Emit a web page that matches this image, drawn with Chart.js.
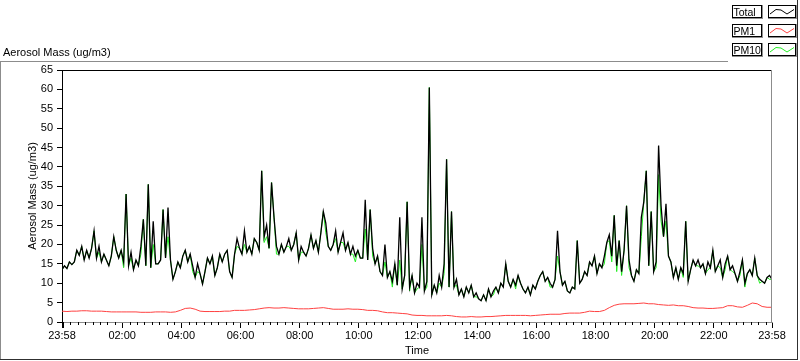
<!DOCTYPE html>
<html><head><meta charset="utf-8">
<script src="https://cdn.jsdelivr.net/npm/chart.js@4"></script>
<style>html,body{margin:0;padding:0;background:#fff;overflow:hidden}#wrap{width:800px;height:361px;position:relative}</style>
</head><body><div id="wrap"><canvas id="c" width="800" height="361"></canvas></div>
<script>
// ---- data (minutes after 23:58 start) ----
const totalStepMin = 5;
const pm1StepMin = 10;
const seriesNames = ['Total', 'PM1', 'PM10'];
const totalValues = [
13.5,14.5,13.8,15.5,14.8,15.5,18.5,17.2,19.5,16,18.5,16.5,
19,23.5,16.5,19.5,15.5,17.5,16,14.5,17,22,18.5,16.5,
18.5,15.5,33,14.5,18,13.5,16,14.5,19.5,26.5,14.5,35.5,
14,26,15,15,16,29,16.5,29.5,16,11,13,15.5,
14,17,18.5,15.5,17.5,14.5,11.5,15,12.5,9.8,13,16.5,
15,17,12,14,17.5,15.5,17.5,18.5,13,11.5,17.5,21.5,
19,17.5,23.5,18,19.5,17.5,21.5,20.5,18.5,39,22,25,
19,36,27,19.5,17.5,20,18,19.5,21.5,18.5,20,23,
16,19.5,18,17,19,22.5,19,21,18,23,28.5,25.5,
19.5,18.5,20,23.5,18,20.5,23,18.5,20.5,17.5,19.5,17,
18.5,16.5,16.5,31.5,16,29,19,15,17,13,12,20,
11.5,13,10.5,15,9.5,27,8.5,12,31,9,12,7.5,
10,9,27,8,10.5,60.5,7,9.5,7.5,12,9,15,
42,9,28.5,9,11,7,8.5,6.5,9,7.5,9.5,6.5,
7.5,6,5.5,7,5.5,8.5,6.5,8,9,7.5,10,9,
15,10.5,9,11,9.5,12,10,8.5,7.5,9,7,9.5,
8.5,10.5,12,13,10.5,11.5,10,9,11,23.5,13,9.5,
10.5,8,7.5,9,8.5,21,10,11,13,12,15.5,14.5,
17,12.5,15,14,17,20.5,22.5,17,27.5,14.5,21,13,
18.5,30,16,12,10.5,13.5,12.5,27,31,39,14.5,28.5,
13,15.5,45.5,30,22,30.5,17,15.5,11.5,14,11,14,
12.5,26,10.5,13.5,16,14.5,16,14,15,12.5,15.5,14,
18.5,13,14.5,16,11.5,15,17,13.5,14.5,12.5,10.5,13,
16,10,12.5,13.5,12,16.5,12,11,10.5,10,11.5,12,
11
];
const pm10Values = [
13.5,14.5,13.8,15.5,14.8,15.5,18.5,17.2,19.5,16,18.5,16.5,
19,23.5,16.5,18,15.5,17.5,16,14.5,17,22,18.5,16.5,
18.5,14,33,14.5,16.5,13.5,16,14.5,17.5,26.5,14.5,35.5,
14,20,15,15,16,29,16.5,22,16,11,13,15.5,
14,17,18.5,15.5,17.5,13,11.5,13,12.5,9.8,13,16.5,
15,17,12,14,17.5,15.5,17.5,18.5,13,11.5,17.5,19.5,
19,17.5,20,18,19.5,17.5,21.5,20.5,18.5,39,20.5,22,
19,36,27,17.5,17.5,20,18,19.5,19.5,18.5,20,23,
16,18,18,17,19,22.5,19,21,18,23,28.5,23,
19.5,18.5,20,21.5,18,20.5,20.5,18.5,20.5,17.5,17.5,15.5,
18.5,16.5,16.5,24,16,29,17,15,17,13,12,15.5,
11.5,13,9,15,9.5,16,8.5,12,31,8,12,7.5,
8.5,9,20,8,9,60.5,7,9.5,7.5,10,9,12.5,
42,9,28.5,9,9.5,7,8.5,6.5,9,7.5,9.5,6.5,
6.5,6,5.5,7,5.5,8.5,6.5,7,9,7.5,10,9,
15,10.5,9,11,8.5,12,10,8.5,7.5,9,7,9.5,
8.5,10.5,12,13,10.5,11.5,9,9,11,17,13,9.5,
10.5,8,7.5,9,8.5,21,10,11,13,12,15.5,14.5,
17,12.5,15,14,15,20.5,21,15.5,27.5,13,21,12,
18.5,30,14,12,10.5,13.5,12.5,22,31,39,14.5,28.5,
13,14,38,26,22,26,17,15.5,11.5,14,11,14,
11.5,26,10.5,13.5,16,14.5,14.5,14,15,12.5,13.5,14,
18.5,13,14.5,14,11.5,13.5,17,13.5,13,12.5,10.5,12,
16,9,12.5,13.5,12,16.5,12,10,10.5,10,11.5,11,
11
];
const pm1Values = [
2.8,2.7,2.8,2.8,2.9,2.9,2.8,2.8,2.8,2.7,2.6,2.6,
2.6,2.6,2.6,2.6,2.5,2.5,2.5,2.6,2.6,2.6,2.5,2.6,
3.0,3.5,3.6,3.3,2.8,2.7,2.7,2.7,2.7,2.8,2.8,3.0,
3.0,3.0,3.1,3.2,3.4,3.6,3.7,3.6,3.6,3.7,3.6,3.5,
3.4,3.4,3.4,3.5,3.6,3.7,3.5,3.3,3.3,3.3,3.4,3.3,
3.3,3.2,3.0,3.0,2.9,2.6,2.4,2.4,2.3,2.2,2.1,1.8,
1.7,1.7,1.6,1.6,1.6,1.6,1.7,1.6,1.4,1.3,1.3,1.4,
1.3,1.3,1.4,1.4,1.5,1.6,1.7,1.7,1.7,1.7,1.7,1.6,
1.7,1.8,1.9,2.0,2.0,2.0,2.2,2.3,2.3,2.3,2.5,2.8,
2.7,2.7,3.0,3.7,4.3,4.6,4.7,4.7,4.7,4.8,4.9,4.7,
4.7,4.5,4.4,4.3,4.4,4.2,4.2,4.0,3.7,3.6,3.6,3.5,
3.5,3.6,3.7,4.2,4.2,3.9,3.8,4.3,4.9,4.7,4.0,3.8,
3.8
];
const xTickMinutes = [0,122,242,362,482,602,722,842,962,1082,1202,1322,1440];
const xTickLabels = ['23:58','02:00','04:00','06:00','08:00','10:00','12:00','14:00','16:00','18:00','20:00','22:00','23:58'];
const xMinorStart = 17, xMinorStep = 15;
const yMin = 0, yMax = 65, yStep = 5;
const yTitle = 'Aerosol Mass (ug/m3)';
const xTitle = 'Time';
const chartTitle = 'Aerosol Mass (ug/m3)';

// ---- styling ----
const FONT = 'Liberation Sans';
const colors = {Total:'#000000', PM1:'#ff4040', PM10:'#22ee22'};
const toPts = (arr, step) => arr.map((v,i)=>({x:i*step, y:v}));

const decor = {
  id:'decor',
  afterDraw(chart){
    const ctx = chart.ctx, a = chart.chartArea;
    const xs = chart.scales.x;
    ctx.save();
    ctx.lineWidth = 1;
    // outer frame
    ctx.strokeStyle = '#8c8c8c';
    ctx.beginPath();
    ctx.moveTo(0,61.5); ctx.lineTo(728,61.5);
    ctx.moveTo(0.5,61); ctx.lineTo(0.5,359);
    ctx.stroke();
    ctx.strokeStyle = '#303030';
    ctx.beginPath();
    ctx.moveTo(0,359.5); ctx.lineTo(798,359.5);
    ctx.moveTo(797.5,0); ctx.lineTo(797.5,360);
    ctx.stroke();
    // plot top & right border
    ctx.strokeStyle = '#000';
    ctx.beginPath(); ctx.moveTo(a.left, a.top+0.5); ctx.lineTo(a.right, a.top+0.5); ctx.stroke();
    ctx.strokeStyle = '#8c8c8c';
    ctx.beginPath(); ctx.moveTo(a.right-0.5, a.top); ctx.lineTo(a.right-0.5, a.bottom); ctx.stroke();
    // minor x ticks
    ctx.strokeStyle = '#000';
    ctx.beginPath();
    for (let m = xMinorStart; m < 1440; m += xMinorStep) {
      if (xTickMinutes.includes(m)) continue;
      const px = Math.round(xs.getPixelForValue(m)) + 0.5;
      ctx.moveTo(px, a.bottom); ctx.lineTo(px, a.bottom+3);
    }
    ctx.stroke();
    // thick first tick
    ctx.fillStyle = '#000';
    ctx.fillRect(Math.round(xs.getPixelForValue(0)), a.bottom, 2, 6);
    // chart title
    ctx.font = '11px "' + FONT + '"';
    ctx.textBaseline = 'alphabetic';
    ctx.textAlign = 'left';
    ctx.fillText(chartTitle, 3, 56);
    // legend
    const rows = [5, 24, 43];
    ctx.font = '10.5px "' + FONT + '"';
    seriesNames.forEach((n, i) => {
      const y = rows[i];
      ctx.strokeStyle = '#000';
      ctx.strokeRect(732.5, y+0.5, 29, 12);
      ctx.strokeStyle = '#909090';
      ctx.beginPath(); ctx.moveTo(762.5, y); ctx.lineTo(762.5, y+14); ctx.moveTo(732, y+13.5); ctx.lineTo(763, y+13.5); ctx.stroke();
      ctx.fillStyle = '#000';
      ctx.fillText(n, 733.5, y+11);
      ctx.strokeStyle = '#000';
      ctx.strokeRect(768.5, y+0.5, 27, 12);
      ctx.strokeStyle = '#909090';
      ctx.beginPath(); ctx.moveTo(796.5, y); ctx.lineTo(796.5, y+14); ctx.moveTo(768, y+13.5); ctx.lineTo(797, y+13.5); ctx.stroke();
      ctx.strokeStyle = colors[n];
      ctx.beginPath();
      const ix = 768, iy = y;
      ctx.moveTo(ix+2, iy+9); ctx.lineTo(ix+8, iy+4.5); ctx.lineTo(ix+13, iy+5); ctx.lineTo(ix+19, iy+9); ctx.lineTo(ix+26, iy+4.5);
      ctx.stroke();
    });
    ctx.restore();
  }
};

new Chart(document.getElementById('c'), {
  type:'line',
  data:{datasets:[
    {label:'Total', data:toPts(totalValues,totalStepMin), borderColor:colors.Total, borderWidth:1.3, pointRadius:0, tension:0},
    {label:'PM10', data:toPts(pm10Values,totalStepMin), borderColor:colors.PM10, borderWidth:1, pointRadius:0, tension:0},
    {label:'PM1', data:toPts(pm1Values,pm1StepMin), borderColor:colors.PM1, borderWidth:1, pointRadius:0, tension:0}
  ]},
  options:{
    responsive:false, animation:false, devicePixelRatio:1, events:[],
    parsing:false,
    layout:{padding:{left:0, top:70, right:28, bottom:0}},
    plugins:{legend:{display:false}, tooltip:{enabled:false}, title:{display:false}},
    scales:{
      x:{type:'linear', min:0, max:1440, offset:false,
        afterBuildTicks:s=>{ s.ticks = xTickMinutes.map(v=>({value:v})); },
        afterFit:s=>{ s.height = 39; },
        ticks:{autoSkip:false, maxRotation:0, padding:1, color:'#000', font:{family:FONT, size:11},
          callback:(v,i)=>xTickLabels[i]},
        grid:{display:true, drawOnChartArea:false, drawTicks:true, tickLength:6, color:'#000'},
        border:{display:true, color:'#8c8c8c', width:1},
        title:{display:true, text:xTitle, color:'#000', font:{family:FONT, size:11}, padding:{top:0, bottom:3}}
      },
      y:{type:'linear', min:yMin, max:yMax,
        afterFit:s=>{ s.width = 62; },
        ticks:{stepSize:yStep, padding:4, color:'#000', font:{family:FONT, size:11}},
        grid:{display:true, drawOnChartArea:false, drawTicks:true, tickLength:5, color:'#000'},
        border:{display:true, color:'#000', width:1},
        title:{display:true, text:yTitle, color:'#000', font:{family:FONT, size:11}, padding:{top:26, bottom:0}}
      }
    }
  },
  plugins:[decor]
});
</script>
</body></html>
